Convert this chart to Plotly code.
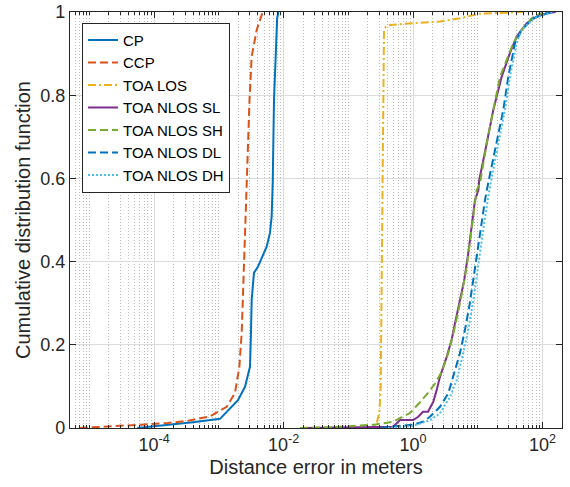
import plotly.graph_objects as go

# ---- data (x: distance error in meters, y: CDF) ----
cp_err = [5.5e-5, 1.76e-4, 2.51e-4, 3.98e-4, 1.04e-3, 1.97e-3, 2.53e-3, 3.02e-3, 3.13e-3,
          3.21e-3, 3.48e-3, 4.02e-3, 5.47e-3, 6.15e-3, 6.53e-3, 6.78e-3, 7.10e-3, 7.59e-3,
          7.94e-3, 8.32e-3]
cp_cdf = [0.0, 0.008, 0.010, 0.014, 0.022, 0.067, 0.099, 0.147, 0.228,
          0.308, 0.373, 0.388, 0.436, 0.469, 0.508, 0.589, 0.788, 0.93,
          0.985, 1.0]

ccp_err = [7.08e-6, 2.51e-5, 6.31e-5, 1.62e-4, 3.24e-4, 7.24e-4, 1.32e-3, 1.77e-3, 2.07e-3,
           2.25e-3, 2.44e-3, 2.62e-3, 2.77e-3, 2.97e-3, 3.21e-3, 3.84e-3, 4.63e-3, 5.13e-3]
ccp_cdf = [0.0, 0.004, 0.008, 0.012, 0.017, 0.028, 0.051, 0.084, 0.147,
           0.228, 0.388, 0.548, 0.668, 0.788, 0.893, 0.957, 0.995, 1.0]

los_err = [0.166, 0.240, 0.275, 0.302, 0.316, 0.324, 0.335, 0.347, 0.355, 0.380, 0.437,
           0.995, 2.60, 5.30, 10.8, 35.5, 57.5]
los_cdf = [0.0, 0.004, 0.012, 0.04, 0.1, 0.3, 0.6, 0.85, 0.955, 0.965, 0.969,
           0.973, 0.977, 0.985, 0.996, 0.999, 1.0]

sl_err = [0.020, 0.490, 0.63, 0.794, 1.00, 1.20, 1.42, 1.70, 2.05, 2.31, 2.60, 3.30, 3.94,
          4.44, 5.16, 6.17, 7.11, 8.04, 9.04, 10.2, 10.5, 13.7, 17.3, 23.3, 31.3,
          39.8, 56.8, 81.1, 116, 158]
sl_cdf = [0.0, 0.003, 0.019, 0.019, 0.019, 0.027, 0.039, 0.039, 0.063, 0.091, 0.123, 0.171, 0.212,
          0.252, 0.300, 0.356, 0.420, 0.484, 0.548, 0.572, 0.596, 0.684, 0.764, 0.844, 0.901,
          0.941, 0.973, 0.989, 0.997, 1.0]

sh_err = [0.0178, 0.0575, 0.251, 0.490, 0.891, 1.28, 1.82, 2.18, 2.76, 3.49, 4.44, 5.43,
          6.73, 8.04, 9.59, 10.8, 13.7, 17.3, 22.0, 35.2, 47.5, 67.9, 101]
sh_cdf = [0.0, 0.002, 0.008, 0.015, 0.036, 0.062, 0.09, 0.107, 0.135, 0.180, 0.244, 0.308,
          0.388, 0.476, 0.572, 0.588, 0.684, 0.764, 0.844, 0.925, 0.957, 0.985, 1.0]

dl_err = [0.316, 0.437, 1.0, 1.42, 1.82, 2.60, 3.49, 4.18, 5.30, 6.32, 7.38, 8.49, 9.59,
          10.8, 12.9, 14.5, 19.5, 24.7, 29.5, 37.5, 47.5, 71.8, 116, 158]
dl_cdf = [0.0, 0.003, 0.008, 0.015, 0.027, 0.051, 0.083, 0.123, 0.180, 0.236, 0.292, 0.356,
          0.412, 0.476, 0.548, 0.59, 0.684, 0.764, 0.844, 0.925, 0.957, 0.985, 0.997, 1.0]

dh_err = [0.398, 1.0, 1.82, 2.60, 3.72, 4.71, 5.96, 7.11, 8.71, 10.2, 12.1, 14.5, 15.8,
          20.7, 26.2, 31.3, 39.8, 47.5, 74.1, 145]
dh_cdf = [0.0, 0.005, 0.019, 0.035, 0.075, 0.115, 0.180, 0.236, 0.316, 0.396, 0.476, 0.556,
          0.59, 0.684, 0.764, 0.844, 0.925, 0.957, 0.985, 1.0]

series_names = ["CP", "CCP", "TOA LOS", "TOA NLOS SL", "TOA NLOS SH", "TOA NLOS DL", "TOA NLOS DH"]
x_tick_vals = [1e-4, 1e-2, 1, 100]
x_tick_text = ["10<sup>-4</sup>", "10<sup>-2</sup>", "10<sup>0</sup>", "10<sup>2</sup>"]
y_tick_vals = [0, 0.2, 0.4, 0.6, 0.8, 1]

# ---- styling ----
colors = ["#0072BD", "#D95319", "#EDB120", "#7E2F8E", "#77AC30", "#0072BD", "#4DBEEE"]
dashes = ["solid", "8px,4px", "8px,3px,2px,3px", "solid", "8px,4px", "8px,4px", "2px,2px"]
xs = [cp_err, ccp_err, los_err, sl_err, sh_err, dl_err, dh_err]
ys = [cp_cdf, ccp_cdf, los_cdf, sl_cdf, sh_cdf, dl_cdf, dh_cdf]

fig = go.Figure()
for name, x, y, c, d in zip(series_names, xs, ys, colors, dashes):
    fig.add_trace(go.Scatter(x=x, y=y, mode="lines", name=name,
                             line=dict(color=c, width=2, dash=d)))

# minor ticks (every k*10^n not a labelled major)
minor_vals = []
for n in range(-6, 3):
    for k in range(1, 10):
        v = k * 10.0 ** n
        if v < 5e-6 or v > 200:
            continue
        if k == 1 and n in (-4, -2, 0, 2):
            continue
        minor_vals.append(v)

axis_col = "#262626"
font_family = "Liberation Sans, Arial, Helvetica, sans-serif"

fig.update_layout(
    width=570, height=487,
    margin=dict(l=70, r=8, t=12, b=59, autoexpand=False),
    paper_bgcolor="white", plot_bgcolor="white",
    font=dict(family=font_family, size=18, color=axis_col),
    showlegend=True,
    legend=dict(x=0.0244, y=0.974, xanchor="left", yanchor="top",
                bgcolor="white", bordercolor=axis_col, borderwidth=1,
                font=dict(size=15, color="black"), tracegroupgap=0),
)
fig.update_xaxes(
    type="log", range=[-5.3, 2.3], automargin=False,
    tickmode="array", tickvals=x_tick_vals, ticktext=x_tick_text,
    ticks="inside", ticklen=6, tickcolor=axis_col, tickwidth=1,
    showline=True, linecolor=axis_col, linewidth=1.3, mirror="allticks",
    showgrid=True, gridcolor="#dcdcdc", gridwidth=1,
    minor=dict(tickmode="array", tickvals=minor_vals, ticks="inside", ticklen=3,
               tickcolor=axis_col, showgrid=True, gridcolor="#bdbdbd",
               griddash="1px,2px", gridwidth=1),
    title=dict(text="Distance error in meters", font=dict(size=20), standoff=6),
    tickfont=dict(size=18), zeroline=False, ticklabeloverflow="allow",
)
fig.update_yaxes(
    range=[0, 1], automargin=False, tickmode="array", tickvals=y_tick_vals,
    ticks="inside", ticklen=6, tickcolor=axis_col, tickwidth=1,
    showline=True, linecolor=axis_col, linewidth=1.3, mirror="allticks",
    showgrid=True, gridcolor="#dcdcdc", gridwidth=1,
    title=dict(text="Cumulative distribution function", font=dict(size=20), standoff=4),
    tickfont=dict(size=18), zeroline=False, ticklabeloverflow="allow",
)

fig.write_html("out.html", config={"displayModeBar": False},
               post_script="document.body.style.margin='0';")
